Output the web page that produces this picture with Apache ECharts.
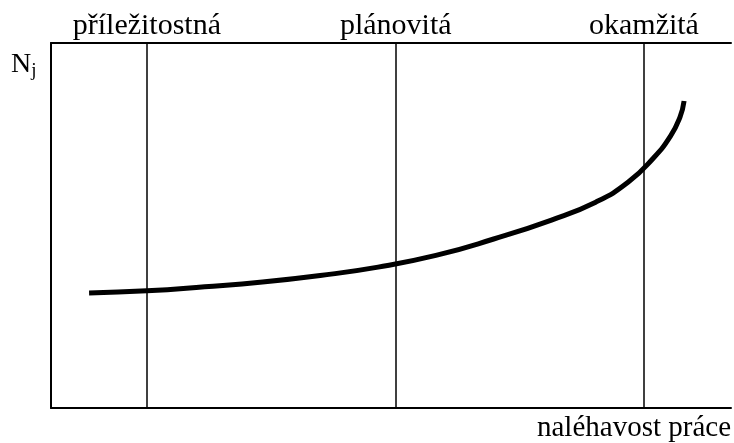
<!DOCTYPE html>
<html><head><meta charset="utf-8">
<script src="https://cdn.jsdelivr.net/npm/echarts@6/dist/echarts.min.js"></script>
<style>html,body{margin:0;padding:0;background:#fff}#c{width:734px;height:443px}</style>
</head><body><div id="c"></div>
<script>
// categories (positions on the urgency axis, 0-100)
var categories = ['příležitostná', 'plánovitá', 'okamžitá'];
var categoryX = [14.1, 50.7, 87.2];
// curve N_j vs. urgency
var curveX = [5.6, 14.1, 22.6, 31.1, 39.6, 48.1, 56.6, 65.1, 73.6, 80.1, 84.9, 88.6, 91.1, 92.5, 93.1];
var curveY = [31.5, 32.1, 33.2, 34.5, 36.3, 38.6, 41.8, 46.3, 51.5, 56.4, 61.9, 68.5, 74.5, 79.7, 84.1];
var xTitle = 'naléhavost práce';
var FONT = '"Liberation Serif", "Times New Roman", serif';

var chart = echarts.init(document.getElementById('c'));
var pts = curveX.map(function (x, i) { return [x, curveY[i]]; });
chart.setOption({
  animation: false,
  grid: { left: 51, right: 1, top: 43, bottom: 35 },
  xAxis: [{
    type: 'value', min: 0, max: 100, position: 'bottom',
    axisLine: { show: true, lineStyle: { color: '#000', width: 2 } },
    axisTick: { show: false }, axisLabel: { show: false }, splitLine: { show: false },
    name: xTitle, nameLocation: 'end', nameGap: 0,
    nameTextStyle: { fontFamily: FONT, fontSize: 29, color: '#000', align: 'right', verticalAlign: 'top', padding: [6, 0, 0, 0] }
  }, {
    type: 'value', min: 0, max: 100, position: 'top',
    axisLine: { show: true, onZero: false, lineStyle: { color: '#000', width: 2 } },
    axisTick: { show: false }, axisLabel: { show: false }, splitLine: { show: false }
  }],
  yAxis: {
    type: 'value', min: 0, max: 100,
    axisLine: { show: true, lineStyle: { color: '#000', width: 2 } },
    axisTick: { show: false }, axisLabel: { show: false }, splitLine: { show: false }
  },
  graphic: [{
    type: 'text', left: 11, top: 51,
    style: {
      text: '{a|N}{b|j}',
      rich: {
        a: { fontFamily: FONT, fontSize: 28, fill: '#000' },
        b: { fontFamily: FONT, fontSize: 19, fill: '#000', padding: [13, 0, 0, 0] }
      }
    }
  }],
  series: [{
    type: 'line', data: pts, smooth: 0.5, showSymbol: false,
    lineStyle: { color: '#000', width: 5 },
    markLine: {
      silent: true, symbol: ['none', 'none'],
      lineStyle: { color: '#000', width: 1.5, type: 'solid' },
      label: { show: true, position: 'end', distance: 2, fontFamily: FONT, fontSize: 30, color: '#000',
        formatter: function (p) { return p.name; } },
      data: categories.map(function (c, i) { return { name: c, xAxis: categoryX[i] }; })
    }
  }]
});
</script></body></html>
